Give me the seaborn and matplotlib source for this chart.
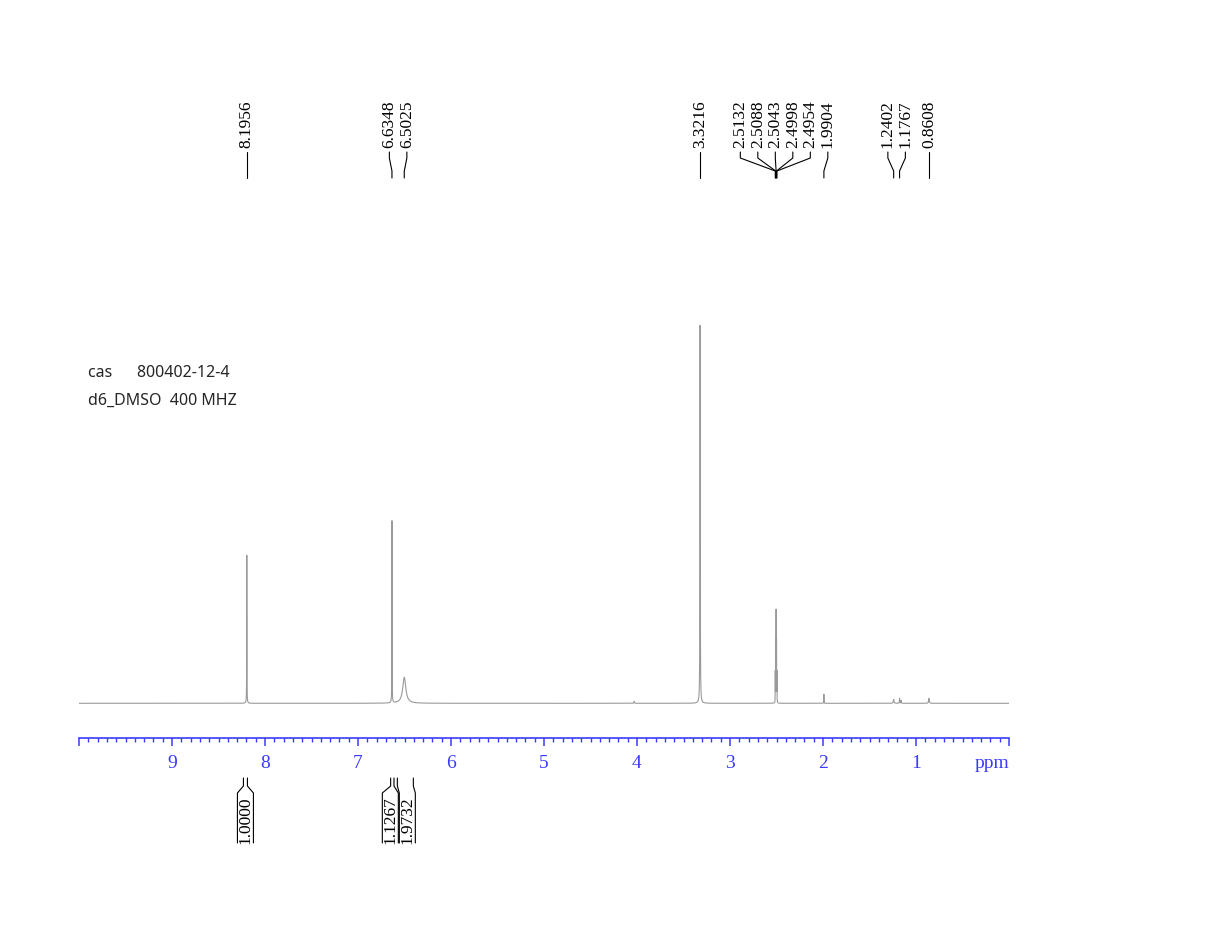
import numpy as np
import matplotlib
matplotlib.use("Agg")
import matplotlib.pyplot as plt
import seaborn as sns

# ---------------- data ----------------
peak_ppm = [8.1956, 6.6348, 6.5025, 4.03, 3.3216, 2.5132, 2.5088, 2.5043,
            2.4998, 2.4954, 1.9904, 1.2402, 1.1767, 1.16, 0.8608]
peak_height = [148, 182, 26, 2, 378, 30, 60, 90, 60, 30, 9, 4, 5, 3, 5]
peak_hwhm = [0.0012, 0.0012, 0.02, 0.003, 0.0018, 0.0008, 0.0008, 0.0008,
             0.0008, 0.0008, 0.0012, 0.004, 0.002, 0.002, 0.004]

label_ppm = [8.1956, 6.6348, 6.5025, 3.3216, 2.5132, 2.5088, 2.5043, 2.4998,
             2.4954, 1.9904, 1.2402, 1.1767, 0.8608]
label_text = ["8.1956", "6.6348", "6.5025", "3.3216", "2.5132", "2.5088", "2.5043",
              "2.4998", "2.4954", "1.9904", "1.2402", "1.1767", "0.8608"]

integral_from = [8.232, 6.649, 6.577]
integral_to = [8.189, 6.613, 6.405]
integral_value = ["1.0000", "1.1267", "1.9732"]

major_ticks = list(range(0, 11))
major_tick_labels = ["", "1", "2", "3", "4", "5", "6", "7", "8", "9", ""]

info_lines = ["cas      800402-12-4", "d6_DMSO  400 MHZ"]

# ---------------- spectrum ----------------
grid = np.linspace(10, 0, 40001)
x = np.sort(np.concatenate([grid, np.array(peak_ppm)]))[::-1]
y = np.zeros_like(x)
for p, h, w in zip(peak_ppm, peak_height, peak_hwhm):
    y += h * w**2 / ((x - p)**2 + w**2)

# ---------------- figure ----------------
W, H = 1214, 952
sns.set_style("white")
plt.rcParams['font.family'] = ['Liberation Serif', 'DejaVu Serif']
fig = plt.figure(figsize=(W / 100, H / 100), dpi=100)

x0_px, x1_px = 79, 1009
base_px = 703.3
ax = fig.add_axes([x0_px / W, 0, (x1_px - x0_px) / W, 1])
ax.set_xlim(10, 0)
ax.set_ylim(base_px - H, base_px)
ax.patch.set_alpha(0)

def py(p):
    # pixel row -> data y
    return base_px - p

px_per_ppm = (x1_px - x0_px) / 10.0

sns.lineplot(x=x, y=y, ax=ax, color="#9a9a9a", linewidth=0.8,
             estimator=None, sort=False)

# axis
blue = "#3a3aff"
for s in ["top", "left", "right"]:
    ax.spines[s].set_visible(False)
ax.spines["bottom"].set_position(("data", py(737.7)))
ax.spines["bottom"].set_color(blue)
ax.spines["bottom"].set_linewidth(1.2)
ax.set_yticks([])
ax.set_xticks(major_ticks)
ax.set_xticklabels(major_tick_labels)
ax.set_xticks(np.arange(0, 10.0001, 0.1), minor=True)
ax.tick_params(axis="x", which="both", bottom=True, top=False)
ax.tick_params(axis="x", which="major", direction="out", length=6, width=1.1,
               color=blue, labelcolor=blue, labelsize=14, pad=6.5)
ax.tick_params(axis="x", which="minor", direction="out", length=3, width=1.0,
               color=blue)
ax.text(0.18, py(764), "ppm", color=blue, fontsize=14, ha="center", va="center")

# peak labels: spread into clusters with min spacing
min_sp = 17.5 / px_per_ppm
clusters = [[i] for i in sorted(range(len(label_ppm)), key=lambda k: -label_ppm[k])]
def place(cl):
    c = np.mean([label_ppm[i] for i in cl])
    n = len(cl)
    return [c + (n - 1) / 2 * min_sp - j * min_sp for j in range(n)]
changed = True
while changed:
    changed = False
    for k in range(len(clusters) - 1):
        a = place(clusters[k]); b = place(clusters[k + 1])
        if a[-1] - b[0] < min_sp - 1e-9:
            clusters[k] = clusters[k] + clusters[k + 1]
            del clusters[k + 1]
            changed = True
            break
lab_pos = {}
for cl in clusters:
    for i, p in zip(cl, place(cl)):
        lab_pos[i] = p

for i, (pp, t) in enumerate(zip(label_ppm, label_text)):
    xl = lab_pos[i]
    ax.text(xl, py(148), t, rotation=90, ha="center", va="bottom",
            fontsize=12.5, color="black")
    ax.plot([xl, xl, pp, pp], [py(152), py(158), py(171), py(178)],
            color="black", lw=0.8, solid_joinstyle="miter")

# integrals
int_sp = 17.0 / px_per_ppm
half = 8.0 / px_per_ppm
centers = [(a + b) / 2 for a, b in zip(integral_from, integral_to)]
icl = [[i] for i in range(len(centers))]
def iplace(cl):
    c = np.mean([centers[i] for i in cl])
    n = len(cl)
    return [c + (n - 1) / 2 * int_sp - j * int_sp for j in range(n)]
changed = True
while changed:
    changed = False
    for k in range(len(icl) - 1):
        a = iplace(icl[k]); b = iplace(icl[k + 1])
        if a[-1] - b[0] < int_sp - 1e-9:
            icl[k] = icl[k] + icl[k + 1]
            del icl[k + 1]
            changed = True
            break
ipos = {}
for cl in icl:
    for i, p in zip(cl, iplace(cl)):
        ipos[i] = p

for i, (a, b, v) in enumerate(zip(integral_from, integral_to, integral_value)):
    c = ipos[i]
    left, right = c + half, c - half
    ax.plot([a, a, left, left], [py(778), py(786), py(793), py(843)],
            color="black", lw=0.8)
    ax.plot([b, b, right, right], [py(778), py(786), py(793), py(843)],
            color="black", lw=0.8)
    ax.text(c, py(820), v, rotation=90, ha="center", va="center",
            fontsize=12.5, color="black")

# info text
for j, line in enumerate(info_lines):
    fig.text(88 / W, 1 - (377 + 28 * j) / H, line, fontsize=11.5,
             family=["Noto Sans", "DejaVu Sans"], ha="left", va="baseline")

fig.savefig("out.png", dpi=100)
